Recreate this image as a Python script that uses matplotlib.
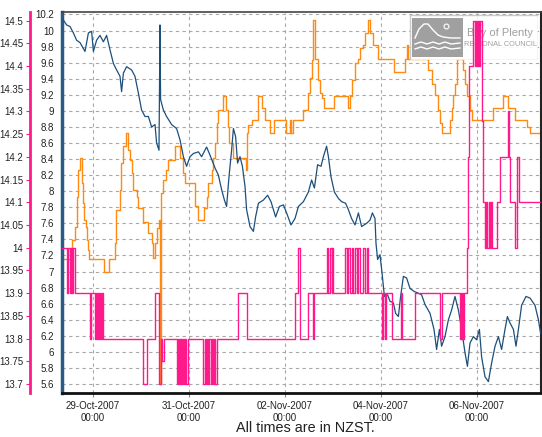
import numpy as np
import matplotlib.pyplot as plt
import matplotlib.dates as mdates
from matplotlib.patches import Rectangle
from datetime import datetime, timedelta

plt.rcParams['font.family'] = ['Liberation Sans', 'DejaVu Sans']

# hours since 28-Oct-2007 00:00 (NZST)
base = datetime(2007, 10, 28)

# dark blue series (inner axis)
blue_hours = [
    9.2, 10.8, 12.5, 14.2, 15.8, 17.5, 20.0, 21.7, 23.3, 24.2,
    25.8, 27.5, 29.2, 30.8, 32.5, 34.2, 35.8, 37.5, 38.3, 39.2,
    40.8, 43.3, 45.0, 46.7, 48.3, 50.0, 51.7, 53.3, 55.0, 55.8,
    57.0, 57.5, 57.8, 59.2, 60.8, 63.3, 65.8, 67.5, 69.2, 70.8,
    72.5, 74.2, 76.7, 78.3, 80.8, 82.5, 85.0, 86.7, 88.3, 89.7,
    90.8, 92.0, 93.3, 94.2, 95.3, 96.3, 97.5, 98.7, 100.0, 100.8,
    102.5, 104.2, 105.3, 106.7, 109.2, 111.3, 113.0, 115.3, 117.2, 119.2,
    120.8, 123.0, 125.0, 126.7, 129.2,
    131.7, 133.3, 134.7, 136.3, 138.0, 139.2, 140.8, 141.7, 143.0, 144.7,
    146.7, 148.3, 150.3, 151.7, 153.3, 155.0, 156.7, 158.3, 160.8, 162.5,
    163.7, 165.0, 165.5, 166.3, 167.5, 168.7, 169.7, 171.3, 172.5, 174.2,
    175.3, 176.7, 177.8, 179.2, 180.8, 182.5, 184.7, 186.7, 188.3,
    190.0, 192.5, 194.5, 195.8, 197.2, 198.3, 200.0, 201.7, 203.3, 205.0,
    206.7, 208.3, 210.0, 211.2, 212.5, 214.2, 215.8, 217.2, 218.3, 220.0,
    221.7, 223.3, 225.0, 226.7, 228.3, 230.0, 231.2, 232.5, 234.2, 235.5,
    236.7, 238.3, 240.5, 242.5, 245.0, 246.7, 247.8]
blue_vals = [
    10.13, 10.07, 10.05, 9.97, 9.88, 9.85, 9.74, 9.97, 9.99, 9.74,
    9.88, 9.94, 9.86, 9.94, 9.76, 9.59, 9.51, 9.43, 9.24, 9.47,
    9.55, 9.51, 9.43, 9.22, 9.01, 8.93, 8.93, 8.80, 8.83, 8.60,
    8.51, 10.07, 9.14, 9.01, 8.93, 8.83, 8.78, 8.64, 8.43, 8.31,
    8.43, 8.47, 8.49, 8.43, 8.55, 8.45, 8.29, 8.20, 8.02, 7.89,
    7.81, 8.18, 8.51, 8.78, 8.68, 8.35, 8.43, 8.31, 8.06, 7.77,
    7.56, 7.50, 7.68, 7.85, 7.89, 7.95, 7.87, 7.68, 7.81, 7.83,
    7.73, 7.58, 7.66, 7.81, 7.87,
    7.99, 8.14, 8.04, 8.33, 8.31, 8.43, 8.56, 8.43, 8.18, 7.99,
    7.91, 7.87, 7.85, 7.77, 7.66, 7.58, 7.73, 7.56, 7.60, 7.64,
    7.73, 7.66, 7.35, 7.15, 7.21, 6.94, 6.69, 6.71, 6.63, 6.61,
    6.48, 6.44, 6.69, 6.94, 6.92, 6.79, 6.75, 6.73, 6.71,
    6.59, 6.48, 6.28, 6.03, 6.28, 6.07, 6.19, 6.40, 6.52, 6.69,
    6.52, 6.28, 5.99, 5.82, 6.11, 6.19, 6.15, 6.28, 5.94, 5.69,
    5.63, 5.86, 6.07, 6.19, 6.03, 6.28, 6.44, 6.36, 6.28, 6.07,
    6.28, 6.58, 6.69, 6.67, 6.58, 6.40, 6.23]

# orange series (inner axis, stepped)
orange_hours = [
    8.5, 12.5, 13.3, 15.0, 15.8, 16.7, 17.5, 18.3, 19.2, 19.5,
    20.5, 20.8, 21.7, 22.2, 29.7, 32.0, 35.0, 35.5, 37.5, 38.0,
    39.2, 40.3, 41.7, 42.5, 43.3, 44.2, 45.8, 46.7, 49.2, 51.7,
    53.3, 54.2, 55.0, 55.8, 57.0, 57.5, 57.8, 59.2, 60.5, 61.7,
    65.0, 67.5, 69.2, 70.0, 75.0, 76.7, 79.7, 80.8, 81.7, 83.3,
    84.2, 85.0, 85.8, 86.7, 89.2, 90.3, 91.3, 92.0, 94.2, 100.5,
    100.8, 101.7, 103.3, 106.3, 108.3, 110.0, 112.5, 114.7, 120.3, 122.3,
    122.8, 124.2, 129.2, 131.7, 132.5, 133.3, 134.2, 135.0, 136.3, 137.5,
    138.7, 139.7, 144.7, 151.3, 152.5, 153.3, 155.0, 156.3, 157.5, 159.2,
    160.0, 161.3, 162.5, 164.2, 166.7, 174.5, 180.0, 180.8, 181.7, 191.7,
    193.3, 195.0, 196.7, 197.5, 198.3, 202.5, 203.3, 204.2, 205.0, 205.8,
    209.2, 210.0, 211.2, 212.5, 213.3, 224.2, 229.2, 231.7, 235.0, 240.8,
    242.5, 248.0]
orange_vals = [
    7.15, 7.27, 7.39, 7.56, 7.93, 8.27, 8.41, 8.10, 7.85, 7.64,
    7.56, 7.39, 7.27, 7.15, 7.00, 7.15, 7.35, 7.77, 8.02, 8.35,
    8.56, 8.72, 8.51, 8.39, 8.23, 8.02, 7.93, 7.79, 7.62, 7.48,
    7.35, 7.17, 7.35, 7.54, 7.64, 5.60, 7.98, 8.14, 8.27, 8.39,
    8.56, 8.41, 8.23, 8.10, 7.81, 7.64, 7.79, 7.93, 8.10, 8.27,
    8.41, 8.60, 8.85, 9.01, 9.19, 9.01, 8.80, 8.60, 8.41, 8.27,
    8.72, 8.83, 8.89, 9.18, 9.03, 8.89, 8.72, 8.89, 8.72, 8.89,
    8.72, 8.89, 9.01, 9.22, 9.41, 9.63, 10.13, 9.64, 9.39, 9.22,
    9.16, 9.04, 9.18, 9.04, 9.18, 9.39, 9.60, 9.64, 9.78, 9.82,
    9.97, 10.13, 9.97, 9.82, 9.65, 9.49, 9.65, 9.82, 9.65, 9.51,
    9.34, 9.20, 9.01, 8.85, 8.72, 8.89, 9.04, 9.20, 9.34, 9.64,
    9.51, 9.34, 9.18, 9.01, 8.89, 9.04, 9.18, 9.04, 8.89, 8.80,
    8.72, 8.72]

# pink series (outer pink axis, stepped)
pink_hours = [
    8.5, 11.0, 11.5, 12.5, 13.0, 13.5, 14.0, 15.2, 22.5, 23.2,
    25.0, 25.5, 26.0, 26.5, 27.0, 27.5, 28.0, 28.5, 29.0, 49.2,
    50.8, 55.0, 57.2, 57.8, 58.3, 59.5, 65.8, 66.3, 66.8, 67.3,
    67.8, 68.2, 68.6, 69.0, 69.5, 70.0, 70.3, 71.5, 79.2, 79.8,
    80.4, 81.0, 81.5, 82.0, 82.8, 83.3, 83.8, 84.5, 85.0, 85.8,
    96.7, 100.8, 125.0, 126.7, 127.5, 131.7, 134.2, 134.7, 140.8, 141.7,
    142.5, 143.3, 143.7, 144.2, 150.0, 150.8, 151.7, 152.5, 153.3, 154.2,
    155.0, 155.8, 156.7, 157.5, 159.2, 160.0, 160.8, 161.7, 168.3, 169.2,
    170.0, 170.3, 173.7, 178.0, 178.7, 185.0, 197.5, 198.3, 207.5, 207.9,
    208.2, 208.6, 208.9, 209.3, 210.8, 211.3, 212.0, 214.2, 214.8, 215.3,
    215.9, 216.4, 217.0, 217.5, 218.3, 219.2, 220.0, 220.6, 221.2, 221.8,
    222.4, 223.0, 223.6, 225.8, 227.5, 231.5, 231.8, 232.5, 235.0, 236.2,
    237.0, 248.0]
pink_vals = [
    14.0, 13.9, 14.0, 13.9, 14.0, 13.9, 14.0, 13.9, 13.8, 13.9,
    13.8, 13.9, 13.8, 13.9, 13.8, 13.9, 13.8, 13.9, 13.8, 13.7,
    13.8, 13.9, 13.7, 13.8, 13.75, 13.8, 13.7, 13.8, 13.7, 13.8,
    13.7, 13.8, 13.7, 13.8, 13.7, 13.8, 13.7, 13.8, 13.7, 13.8,
    13.7, 13.8, 13.7, 13.8, 13.7, 13.8, 13.7, 13.8, 13.7, 13.8,
    13.9, 13.8, 13.9, 14.0, 13.8, 13.9, 13.8, 13.9, 14.0, 13.9,
    14.0, 13.9, 14.0, 13.9, 14.0, 13.9, 14.0, 13.9, 14.0, 13.9,
    14.0, 13.9, 14.0, 13.9, 14.0, 13.9, 14.0, 13.9, 13.8, 13.9,
    13.8, 13.9, 13.8, 13.9, 13.8, 13.9, 13.8, 13.9, 13.8, 13.9,
    13.8, 13.9, 13.8, 13.9, 14.0, 14.2, 14.4, 14.5, 14.4, 14.5,
    14.4, 14.5, 14.4, 14.5, 14.28, 14.1, 14.0, 14.1, 14.0, 14.1,
    14.0, 14.1, 14.0, 14.1, 14.2, 14.3, 14.2, 14.1, 14.0, 14.2,
    14.1, 14.1]

inner_ticks = np.round(np.arange(5.6, 10.21, 0.2), 1)
pink_ticks = np.round(np.arange(13.7, 14.501, 0.05), 2)
x_tick_days = [datetime(2007, 10, 29), datetime(2007, 10, 31), datetime(2007, 11, 2),
               datetime(2007, 11, 4), datetime(2007, 11, 6)]


def to_dates(hours):
    return [base + timedelta(hours=h) for h in hours]


fig = plt.figure(figsize=(5.42, 4.37), dpi=100)
ax = fig.add_axes([62/542, 44/437, 479/542, 381/437])
ax2 = ax.twinx()

ax.plot(to_dates(orange_hours), orange_vals, drawstyle='steps-post',
        color='#ff8a12', lw=1.0, zorder=2)
ax.plot(to_dates(blue_hours), blue_vals, color='#1c4f7c', lw=0.9, zorder=3)
ax2.plot(to_dates(pink_hours), pink_vals, drawstyle='steps-post',
         color='#ff1a8c', lw=1.0, zorder=3)

ax.set_xlim(base + timedelta(hours=8.5), base + timedelta(hours=248))
ax.set_ylim(5.488, 10.231)
ax2.set_ylim(13.680, 14.519)

ax.set_yticks(inner_ticks)
ax.set_yticklabels(['%g' % v for v in inner_ticks])
ax.tick_params(axis='y', length=0, pad=6, labelsize=7, labelcolor='#222222')
ax.set_xticks(x_tick_days)
ax.xaxis.set_major_formatter(mdates.DateFormatter('%d-%b-%Y\n%H:%M'))
ax.tick_params(axis='x', length=3, color='#888888', pad=3, labelsize=7,
               labelcolor='#222222')
ax.grid(True, ls=(0, (3, 3)), color='#a8a8a8', lw=0.8)
ax.set_axisbelow(True)

ax.spines['left'].set_color('#2a5a85')
ax.spines['left'].set_linewidth(2.5)
ax.spines['bottom'].set_color('#111111')
ax.spines['bottom'].set_linewidth(2)
ax.spines['right'].set_color('#222222')
ax.spines['right'].set_linewidth(1.5)
ax.spines['top'].set_color('#444444')
ax.spines['top'].set_linewidth(1.2)

ax2.yaxis.tick_left()
ax2.spines['left'].set_position(('outward', 22.7))
ax2.spines['left'].set_color('#ff1a8c')
ax2.spines['left'].set_linewidth(2)
for s in ['right', 'top', 'bottom']:
    ax2.spines[s].set_visible(False)
ax2.set_yticks(pink_ticks)
ax2.set_yticklabels(['%g' % v for v in pink_ticks])
ax2.tick_params(axis='y', length=3, color='#ff1a8c', pad=2, labelsize=7,
                labelcolor='#222222')
ax2.set_zorder(2)

# logo box
lg = fig.add_axes([409/542, 1 - 60/437, 129/542, 46/437])
lg.set_zorder(1)
lg.set_xlim(0, 129)
lg.set_ylim(46, 0)
lg.axis('off')
lg.add_patch(Rectangle((0.5, 0.5), 128, 45, facecolor='white', alpha=0.9,
                       edgecolor='#c4c4c4', lw=1))
lg.add_patch(Rectangle((3, 4), 51, 39, facecolor='#a0a0a0', edgecolor='none'))
lg.plot([6, 10, 15, 19, 24, 29, 34, 42, 51], [24, 15, 10, 10, 16, 21, 23, 24, 24],
        color='white', lw=1)
lg.plot([6, 12, 18, 24, 30, 36, 42, 51], [30, 28, 30, 28, 30, 28, 30, 29],
        color='white', lw=1)
lg.plot([6, 12, 18, 24, 30, 36, 42, 51], [35, 33, 35, 33, 35, 33, 35, 34],
        color='white', lw=1)
lg.plot([37], [12], marker='o', ms=3.5, mfc='none', mec='white', mew=0.8)
lg.text(91, 19, 'Bay of Plenty', ha='center', va='center', fontsize=8,
        color='#a0a0a0')
lg.text(91, 30, 'REGIONAL COUNCIL', ha='center', va='center', fontsize=5.3,
        color='#a0a0a0')

fig.text(305/542, 1 - 428/437, 'All times are in NZST.', ha='center',
         va='center', fontsize=10.4, color='#222222')

fig.savefig('out.png', dpi=100)
